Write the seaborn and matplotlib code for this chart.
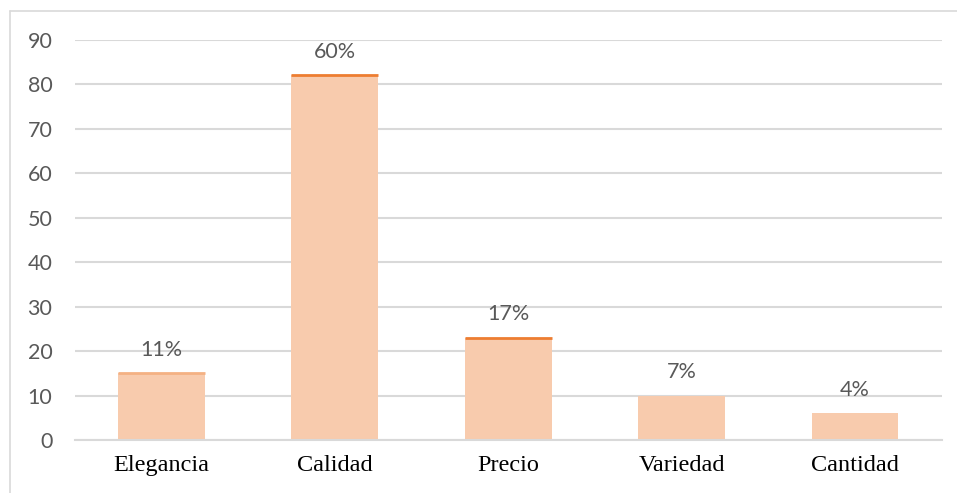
import matplotlib
matplotlib.use("Agg")
import matplotlib.pyplot as plt
import seaborn as sns
from matplotlib.lines import Line2D

# Data
categories = ["Elegancia", "Calidad", "Precio", "Variedad", "Cantidad"]
counts = [15, 82, 23, 10, 6]
pct_labels = ["11%", "60%", "17%", "7%", "4%"]

fill_color = "#F8CBAD"
edge_colors = ["#F4B183", "#ED7D31", "#ED7D31", None, None]
grid_color = "#D9D9D9"
text_color = "#595959"
sans = "Lato"

sns.set_style("white")
fig = plt.figure(figsize=(9.57, 4.93), dpi=100)
ax = fig.add_axes([0.078, 0.1075, 0.906, 0.8115])

sns.barplot(x=categories, y=counts, color=fill_color, saturation=1, width=0.5,
            linewidth=0, ax=ax)

# thin darker line on top of some bars
for patch, ec in zip(ax.patches, edge_colors):
    if ec:
        x0 = patch.get_x()
        ax.hlines(patch.get_height(), x0, x0 + patch.get_width(), color=ec, linewidth=2, zorder=3)

for patch, lab in zip(ax.patches, pct_labels):
    ax.annotate(lab, (patch.get_x() + patch.get_width() / 2, patch.get_height()),
                xytext=(0, 12.5), textcoords="offset points", ha="center", va="baseline",
                fontsize=15.5, color=text_color, family=sans)

ax.set_ylim(0, 90)
ax.set_xlim(-0.5, len(categories) - 0.5)
ax.set_yticks(range(0, 91, 10))
ax.yaxis.grid(True, color=grid_color, linewidth=1.5)
ax.set_axisbelow(True)
for s in ["top", "right", "left"]:
    ax.spines[s].set_visible(False)
ax.spines["bottom"].set_color(grid_color)
ax.spines["bottom"].set_linewidth(1.5)
ax.tick_params(axis="both", length=0)
ax.tick_params(axis="y", pad=16)
ax.tick_params(axis="x", pad=11)
for t in ax.get_yticklabels():
    t.set_fontfamily(sans)
    t.set_fontsize(15.5)
    t.set_color(text_color)
for t in ax.get_xticklabels():
    t.set_fontfamily("Liberation Serif")
    t.set_fontsize(17.5)
    t.set_color("black")
ax.set_xlabel("")
ax.set_ylabel("")

# light frame (only left and top edges visible in the original crop)
fig.lines.append(Line2D([10 / 957, 10 / 957], [0, 1 - 11 / 493], transform=fig.transFigure,
                        color=grid_color, linewidth=1.2))
fig.lines.append(Line2D([10 / 957, 1], [1 - 11 / 493, 1 - 11 / 493], transform=fig.transFigure,
                        color=grid_color, linewidth=1.2))

fig.savefig("out.png", dpi=100)
